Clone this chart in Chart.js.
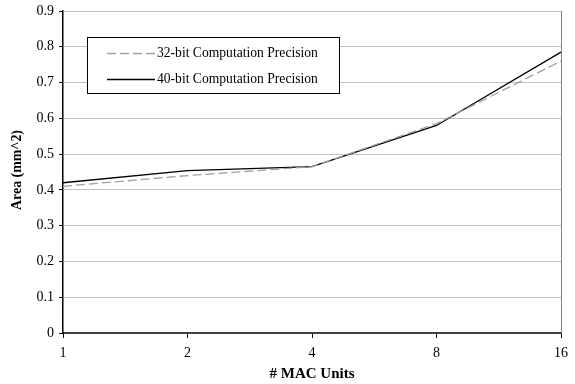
<!DOCTYPE html>
<html>
<head>
<meta charset="utf-8">
<script src="https://cdn.jsdelivr.net/npm/chart.js@4/dist/chart.umd.min.js"></script>
<style>
  html, body { margin: 0; padding: 0; background: #fff; }
  #wrap { width: 575px; height: 384px; }
</style>
</head>
<body>
<div id="wrap"><canvas id="c" width="575" height="384"></canvas></div>
<script>
// 数据
const macUnits = ['1', '2', '4', '8', '16'];
const area32 = [0.41, 0.44, 0.465, 0.585, 0.76];
const area40 = [0.42, 0.454, 0.465, 0.58, 0.785];
const yTicks = [0, 0.1, 0.2, 0.3, 0.4, 0.5, 0.6, 0.7, 0.8, 0.9];
const yTitle = 'Area (mm^2)';

const FONT = "'Liberation Serif', 'Times New Roman', serif";

// 图内图例 + 右边框 + 纵轴标题
const boxLegend = {
    id: 'boxLegend',
    beforeDatasetsDraw(chart) {
        const ctx = chart.ctx;
        const a = chart.chartArea;
        ctx.save();
        ctx.strokeStyle = '#808080';
        ctx.lineWidth = 1;
        ctx.beginPath();
        ctx.moveTo(a.right + 0.5, a.top);
        ctx.lineTo(a.right + 0.5, a.bottom);
        ctx.stroke();
        ctx.restore();
    },
    afterDraw(chart) {
        const ctx = chart.ctx;
        ctx.save();
        const x = 87, y = 37, w = 252, h = 56;
        ctx.fillStyle = '#fff';
        ctx.fillRect(x, y, w, h);
        ctx.strokeStyle = '#000';
        ctx.lineWidth = 1;
        ctx.strokeRect(x + 0.5, y + 0.5, w, h);
        ctx.font = '13.6px ' + FONT;
        ctx.textBaseline = 'middle';
        chart.data.datasets.forEach((ds, i) => {
            const ly = y + 16 + i * 26;
            ctx.strokeStyle = ds.borderColor;
            ctx.lineWidth = ds.borderWidth;
            ctx.setLineDash(ds.borderDash || []);
            ctx.beginPath();
            ctx.moveTo(107, ly + 0.5);
            ctx.lineTo(155, ly + 0.5);
            ctx.stroke();
            ctx.setLineDash([]);
            ctx.fillStyle = '#000';
            ctx.fillText(ds.label, 157, ly);
        });
        ctx.restore();

        // 纵轴标题
        ctx.save();
        ctx.font = 'bold 15px ' + FONT;
        ctx.fillStyle = '#000';
        ctx.textAlign = 'center';
        ctx.textBaseline = 'middle';
        const tw = ctx.measureText(yTitle).width;
        ctx.translate(17, 170);
        ctx.rotate(-Math.PI / 2);
        ctx.scale(80 / tw, 1);
        ctx.fillText(yTitle, 0, 0);
        ctx.restore();
    }
};

new Chart(document.getElementById('c').getContext('2d'), {
    type: 'line',
    data: {
        labels: macUnits,
        datasets: [{
            label: '32-bit Computation Precision',
            data: area32,
            borderColor: '#a0a0a0',
            borderWidth: 1.3,
            borderDash: [9, 4],
            pointRadius: 0,
            fill: false,
            tension: 0
        }, {
            label: '40-bit Computation Precision',
            data: area40,
            borderColor: '#000',
            borderWidth: 1.3,
            pointRadius: 0,
            fill: false,
            tension: 0
        }]
    },
    options: {
        responsive: false,
        animation: false,
        layout: {padding: {top: 11, right: 14, left: 0, bottom: 0}},
        plugins: {
            legend: {display: false},
            tooltip: {enabled: false}
        },
        scales: {
            x: {
                offset: false,
                afterFit: s => { s.height = 51; },
                grid: {drawOnChartArea: false, tickLength: 5, tickColor: '#000'},
                border: {color: '#404040', width: 2},
                ticks: {color: '#000', font: {family: FONT, size: 14}, padding: 7, maxRotation: 0},
                title: {display: true, text: '# MAC Units', color: '#000',
                        font: {family: FONT, size: 15, weight: 'bold'}, padding: {top: 0, bottom: 1}}
            },
            y: {
                min: 0, max: 0.9,
                afterFit: s => { s.width = 63; s.paddingTop = 0; s.paddingBottom = 0; },
                afterBuildTicks: s => { s.ticks = yTicks.map(v => ({value: v})); },
                grid: {color: '#c0c0c0', tickLength: 4, tickColor: '#000'},
                border: {color: '#000', width: 1.5},
                ticks: {color: '#000', font: {family: FONT, size: 14}, padding: 5,
                        callback: v => String(v)},
                title: {display: false}
            }
        }
    },
    plugins: [boxLegend]
});
</script>
</body>
</html>
